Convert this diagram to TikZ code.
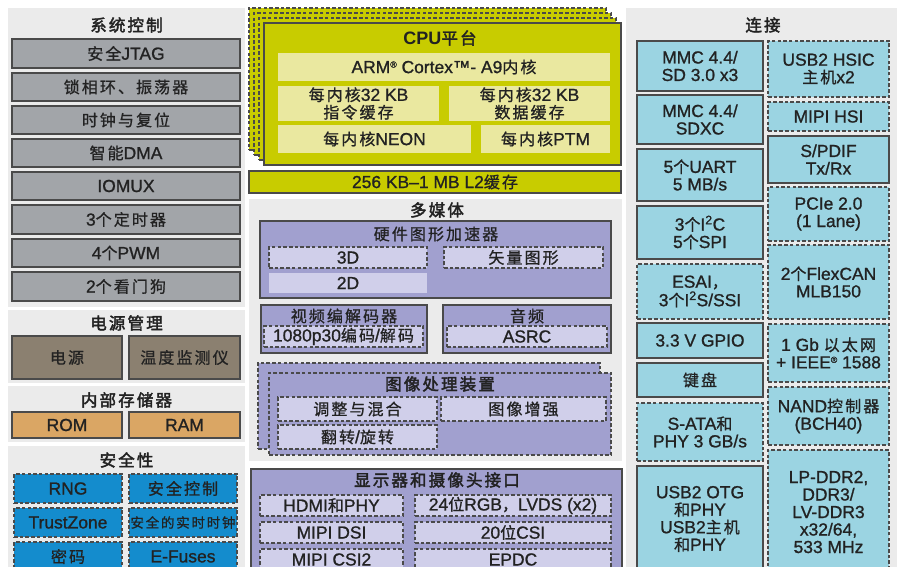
\documentclass[tikz,border=0pt]{standalone}
\usepackage{fontspec}
\setmainfont{Liberation Sans}[Scale=1.09,UprightFeatures={FakeBold=1.1}]
\newfontfamily\cjkfont{Noto Sans CJK SC}[LetterSpace=13,UprightFeatures={FakeBold=0.9},BoldFont={Noto Sans CJK SC},BoldFeatures={FakeBold=2.4}]
\XeTeXinterchartokenstate=1
\newXeTeXintercharclass\cjkclass
\newcount\cjkcnt
\cjkcnt="3000
\loop \XeTeXcharclass\cjkcnt=\cjkclass \advance\cjkcnt by 1 \ifnum\cjkcnt<"A000 \repeat
\cjkcnt="FF00
\loop \XeTeXcharclass\cjkcnt=\cjkclass \advance\cjkcnt by 1 \ifnum\cjkcnt<"FFF0 \repeat
\XeTeXinterchartoks 0 \cjkclass={\cjkfont}
\XeTeXinterchartoks 4095 \cjkclass={\cjkfont}
\XeTeXinterchartoks \cjkclass 0={\rmfamily}
\XeTeXinterchartoks \cjkclass 4095={\rmfamily}
\newcommand\regmark{\raisebox{0.6ex}{\fontsize{8}{8}\selectfont ®}}
\newcommand\bx[7]{\node[#2,anchor=north west,minimum width={#5-#3},minimum height={#6-#4}] (#1) at (#3,#4) {#7};}
\definecolor{panelg}{HTML}{EBEBEB}
\definecolor{grayb}{HTML}{A2A5A9}
\definecolor{brownb}{HTML}{8B8070}
\definecolor{orangeb}{HTML}{DAA664}
\definecolor{blueb}{HTML}{148CCD}
\definecolor{cpuy}{HTML}{C8CC00}
\definecolor{cpul}{HTML}{EAE8A0}
\definecolor{purp}{HTML}{A1A0CF}
\definecolor{lpurp}{HTML}{D0CFEA}
\definecolor{cyanb}{HTML}{9BD4E2}
\definecolor{edge}{HTML}{4A4A4A}
\definecolor{txt}{HTML}{222222}
\tikzset{
  every node/.style={inner sep=0pt,outer sep=0pt,text=txt,align=center,font=\fontsize{16}{17.5}\selectfont},
  ttl/.style={font=\fontsize{16.5}{18}\selectfont\bfseries},
  sub/.style={font=\fontsize{16}{18}\selectfont},
  panel/.style={fill=panelg},
  sol/.style={draw=edge,line width=1.1pt},
  dsh/.style={draw=edge,line width=1.3pt,dash pattern=on 3.5pt off 2.2pt},
  gbox/.style={fill=grayb,sol},
  brbox/.style={fill=brownb,sol},
  orbox/.style={fill=orangeb,sol},
  blbox/.style={fill=blueb,dsh},
  cpubox/.style={fill=cpuy,sol},
  cpulayer/.style={fill=cpuy,dsh},
  cpuin/.style={fill=cpul},
  pbox/.style={fill=purp,sol},
  pdash/.style={fill=purp,dsh},
  lpbox/.style={fill=lpurp,dsh},
  lpplain/.style={fill=lpurp},
  cbox/.style={fill=cyanb,sol},
  cdash/.style={fill=cyanb,dsh}
}
\begin{document}
\begin{tikzpicture}[x=1pt,y=-1pt]
\useasboundingbox (0,0) rectangle (900,567);
\clip (0,0) rectangle (900,567);
\fill[white] (0,0) rectangle (900,567);
% ---------- left column ----------
\bx{psys}{panel}{8}{8}{245}{307}{}
\node[ttl] (tsys) at (126.5,25) {系统控制};
\bx{s1}{gbox}{12}{39}{240}{68}{安全JTAG}
\bx{s2}{gbox}{12}{73}{240}{101}{锁相环、振荡器}
\bx{s3}{gbox}{12}{106}{240}{134}{时钟与复位}
\bx{s4}{gbox}{12}{139}{240}{167}{智能DMA}
\bx{s5}{gbox}{12}{172}{240}{200}{IOMUX}
\bx{s6}{gbox}{12}{205}{240}{234}{3个定时器}
\bx{s7}{gbox}{12}{239}{240}{267}{4个PWM}
\bx{s8}{gbox}{12}{272}{240}{301}{2个看门狗}
\bx{ppow}{panel}{8}{310}{245}{383}{}
\node[ttl] (tpow) at (126.5,323) {电源管理};
\bx{pw1}{brbox}{12}{336}{122}{379}{电源}
\bx{pw2}{brbox}{129}{336}{240}{379}{温度监测仪}
\bx{pmem}{panel}{8}{386}{245}{442}{}
\node[ttl] (tmem) at (126.5,400) {内部存储器};
\bx{m1}{orbox}{12}{412}{122}{438}{ROM}
\bx{m2}{orbox}{129}{412}{240}{438}{RAM}
\bx{psec}{panel}{8}{446}{245}{580}{}
\node[ttl] (tsec) at (126.5,460) {安全性};
\bx{c1}{blbox}{14}{474}{122}{503}{RNG}
\bx{c2}{blbox}{129}{474}{237}{503}{安全控制}
\bx{c3}{blbox}{14}{508}{122}{537}{TrustZone}
\bx{c4}{blbox}{129}{508}{237}{537}{\fontsize{13.5}{16}\selectfont 安全的实时时钟}
\bx{c5}{blbox}{14}{542}{122}{571}{密码}
\bx{c6}{blbox}{129}{542}{237}{571}{E-Fuses}
% ---------- CPU ----------
\bx{l1}{cpulayer}{249}{8}{606}{150}{}
\bx{l2}{cpulayer}{254}{13}{611}{155}{}
\bx{l3}{cpulayer}{259}{18}{616}{160}{}
\bx{cpu}{cpubox}{264}{23}{621}{165}{}
\node[ttl] (tcpu) at (440,38) {CPU平台};
\bx{arm}{cpuin}{278}{53}{610}{81}{ARM\regmark\ Cortex™- A9内核}
\bx{ic}{cpuin}{278}{86}{439}{121}{每内核32 KB\\指令缓存}
\bx{dc}{cpuin}{449}{86}{610}{121}{每内核32 KB\\数据缓存}
\bx{neon}{cpuin}{278}{125}{471}{153}{每内核NEON}
\bx{ptm}{cpuin}{481}{125}{610}{153}{每内核PTM}
\bx{l2c}{cpubox}{249}{171}{621}{193}{256 KB–1 MB L2缓存}
% ---------- multimedia ----------
\bx{pmm}{panel}{249}{199}{622}{461}{}
\node[ttl] (tmm) at (437,210) {多媒体};
\bx{hw}{pbox}{260}{221}{611}{298}{}
\node[sub] (thw) at (436,234) {硬件图形加速器};
\bx{g3d}{lpbox}{269}{247}{427}{268}{3D}
\bx{gvec}{lpbox}{444}{247}{603}{268}{矢量图形}
\bx{g2d}{lpplain}{269}{273}{427}{293}{2D}
\bx{vid}{pbox}{261}{305}{427}{353}{}
\node[sub] (tvid) at (344,316) {视频编解码器};
\bx{vcod}{lpbox}{264}{326}{423}{347}{1080p30编码/解码}
\bx{aud}{pbox}{443}{305}{611}{353}{}
\node[sub] (taud) at (527,316) {音频};
\bx{asrc}{lpbox}{447}{326}{607}{347}{ASRC}
\bx{ipb}{pdash}{258}{363}{600}{449}{}
\bx{ipu}{pdash}{269}{373}{611}{455}{}
\node[ttl] (tipu) at (440,384) {图像处理装置};
\bx{ip1}{lpbox}{278}{397}{437}{421}{调整与混合}
\bx{ip2}{lpbox}{441}{397}{606}{421}{图像增强}
\bx{ip3}{lpbox}{278}{425}{437}{449}{翻转/旋转}
% ---------- display ----------
\bx{disp}{pbox}{251}{469}{622}{580}{}
\node[ttl] (tdisp) at (437,480) {显示器和摄像头接口};
\bx{d1}{lpbox}{260}{495}{403}{516}{HDMI和PHY}
\bx{d2}{lpbox}{415}{495}{611}{516}{24位RGB，LVDS (x2)}
\bx{d3}{lpbox}{260}{522}{403}{543}{MIPI DSI}
\bx{d4}{lpbox}{415}{522}{611}{543}{20位CSI}
\bx{d5}{lpbox}{260}{549}{403}{570}{MIPI CSI2}
\bx{d6}{lpbox}{415}{549}{611}{570}{EPDC}
% ---------- connectivity ----------
\bx{pcon}{panel}{626}{8}{897}{580}{}
\node[ttl] (tcon) at (763,25) {连接};
\bx{k1}{cbox}{637}{41}{763}{91}{MMC 4.4/\\SD 3.0 x3}
\bx{k2}{cbox}{637}{95}{763}{144}{MMC 4.4/\\SDXC}
\bx{k3}{cbox}{637}{149}{763}{201}{5个UART\\5 MB/s}
\bx{k4}{cbox}{637}{206}{763}{259}{3个I\textsuperscript{2}C\\5个SPI}
\bx{k5}{cdash}{637}{264}{763}{319}{ESAI，\\[1pt]3个I\textsuperscript{2}S/SSI}
\bx{k6}{cbox}{637}{323}{763}{358}{3.3 V GPIO}
\bx{k7}{cbox}{637}{363}{763}{397}{键盘}
\bx{k8}{cdash}{637}{403}{763}{461}{S-ATA和\\PHY 3 GB/s}
\bx{k9}{cbox}{637}{466}{763}{572}{USB2 OTG\\和PHY\\USB2主机\\和PHY}
\bx{r1}{cdash}{768}{41}{889}{97}{USB2 HSIC\\主机x2}
\bx{r2}{cdash}{768}{102}{889}{131}{MIPI HSI}
\bx{r3}{cbox}{768}{136}{889}{183}{S/PDIF\\Tx/Rx}
\bx{r4}{cdash}{768}{187}{889}{241}{PCIe 2.0\\(1 Lane)}
\bx{r5}{cdash}{768}{245}{889}{319}{2个FlexCAN\\MLB150}
\bx{r6}{cdash}{768}{324}{889}{382}{1 Gb 以太网\\+ IEEE\regmark\ 1588}
\bx{r7}{cdash}{768}{387}{889}{445}{NAND控制器\\(BCH40)}
\bx{r8}{cdash}{768}{450}{889}{574}{LP-DDR2,\\DDR3/\\LV-DDR3\\x32/64,\\533 MHz}
\end{tikzpicture}
\end{document}
